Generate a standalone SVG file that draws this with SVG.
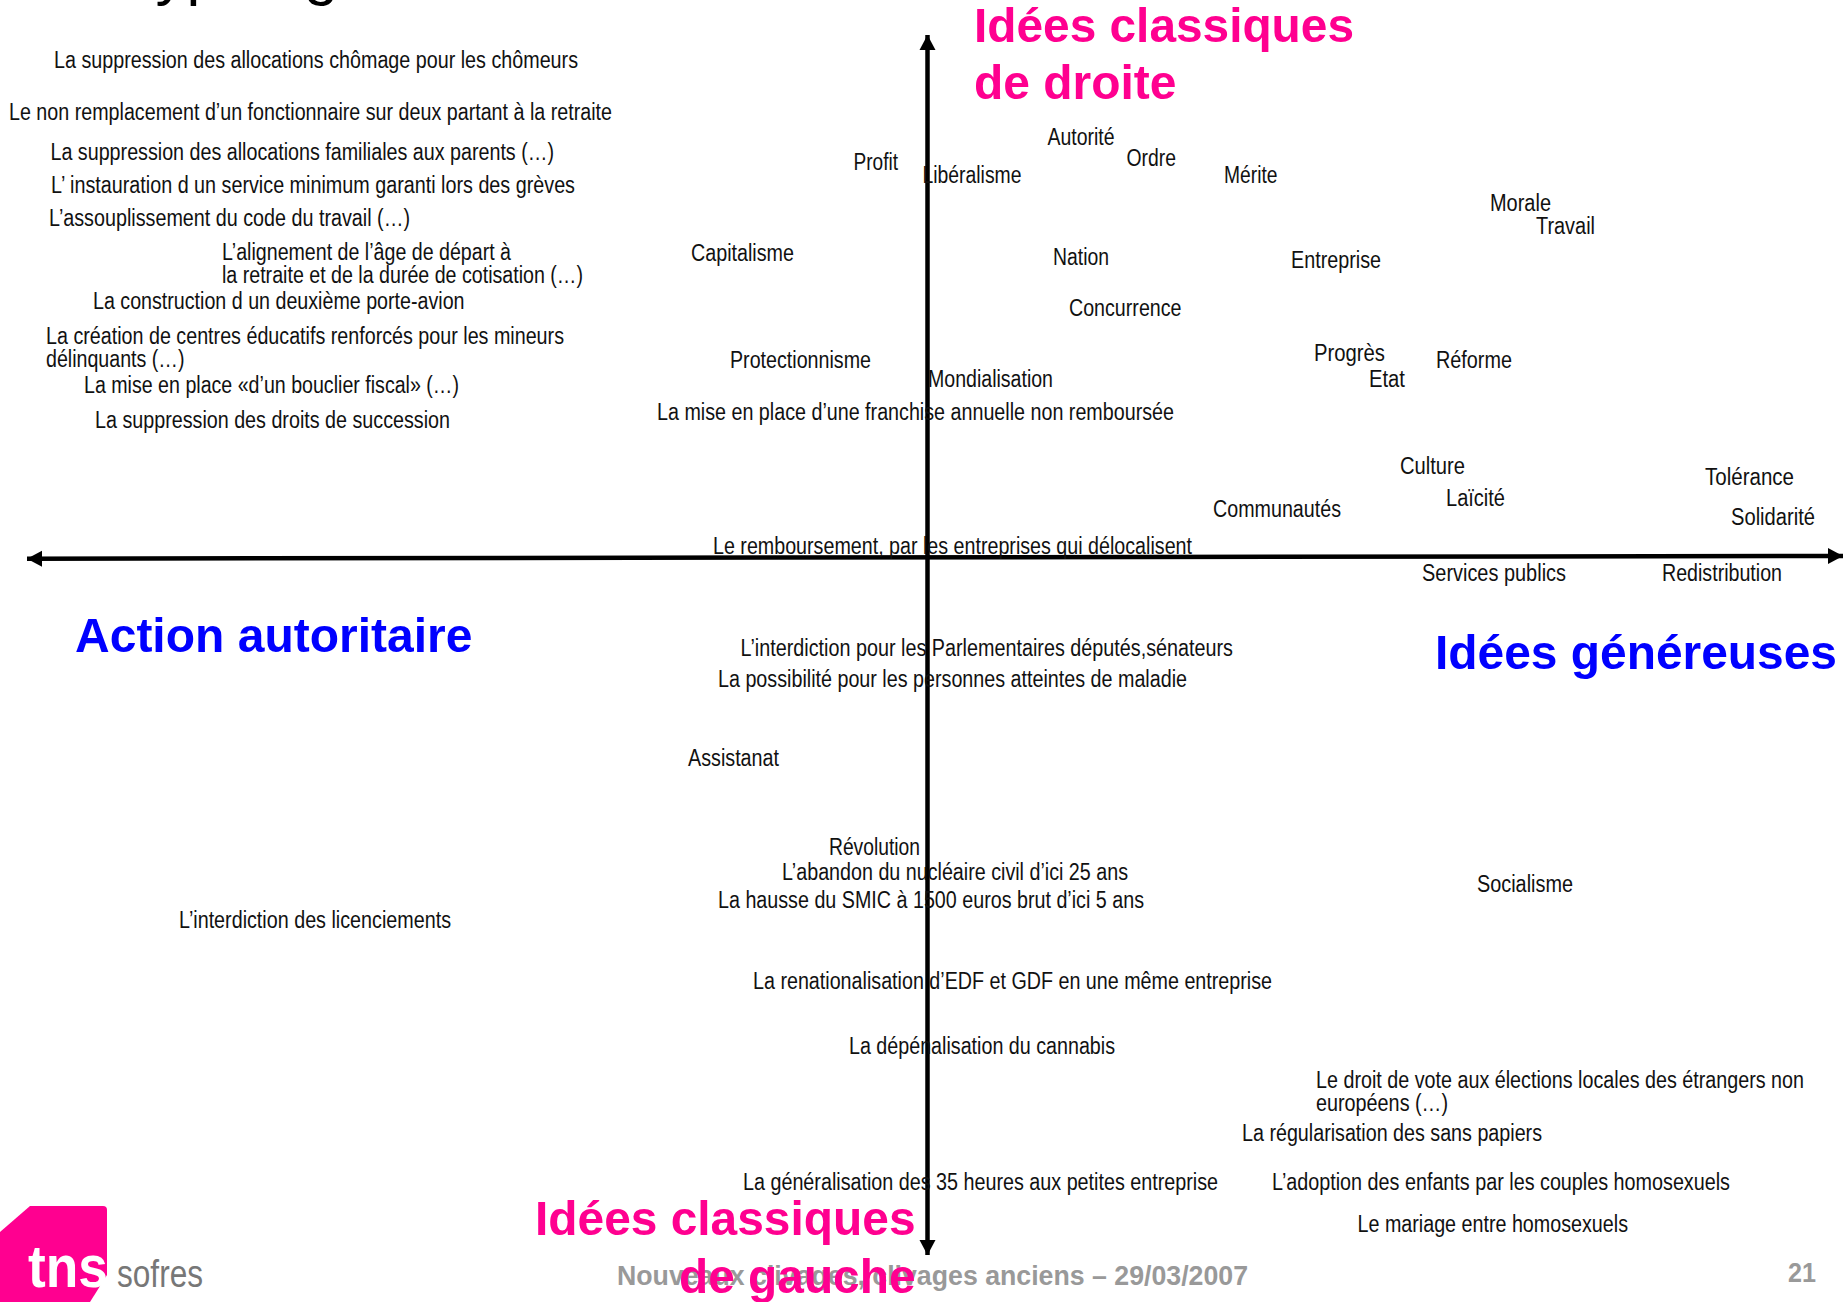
<svg xmlns="http://www.w3.org/2000/svg" width="1843" height="1302" viewBox="0 0 1843 1302">
<style>
text{font-family:"Liberation Sans",Arial,sans-serif}
.t{font-size:23px;fill:#111}
.p{font-size:49px;font-weight:bold;fill:#ff0090}
.b{font-size:49px;font-weight:bold;fill:#0000ff}
.f{font-size:27px;font-weight:bold;fill:#999}
.axis{stroke:#000;stroke-width:4.500;fill:none}
</style>
<defs>
<marker id="a" markerUnits="userSpaceOnUse" markerWidth="16" markerHeight="18" refX="15" refY="9" orient="auto-start-reverse"><path d="M0 1L15 9L0 17Z" fill="#000"/></marker>
</defs>
<rect width="1843" height="1302" fill="#fff"/>
<g id="title"><text x="121" y="-7" font-size="62" fill="#000">Typologie</text></g>
<g id="footer">
<text class="f" x="617" y="1285" textLength="631" lengthAdjust="spacingAndGlyphs">Nouveaux clivages, clivages anciens – 29/03/2007</text>
<text class="f" x="1788" y="1282" textLength="28" lengthAdjust="spacingAndGlyphs" font-size="26">21</text>
</g>
<g id="connectors">
<path class="axis" d="M27 558.700L1843 556" marker-start="url(#a)" marker-end="url(#a)"/>
<path class="axis" d="M927.500 35V1255" marker-start="url(#a)" marker-end="url(#a)"/>
</g>
<g id="logo">
<path d="M0 1232L30 1206H103Q107 1206 107 1210V1275L90 1302H0Z" fill="#ff0090"/>
<text x="28" y="1287" font-size="60" font-weight="bold" fill="#fff" textLength="80" lengthAdjust="spacingAndGlyphs">tns</text>
<text x="117" y="1287" font-size="38" fill="#777" textLength="86" lengthAdjust="spacingAndGlyphs">sofres</text>
</g>
<g id="n1"><text class="t" x="54" y="68" textLength="524" lengthAdjust="spacingAndGlyphs">La suppression des allocations chômage pour les chômeurs</text></g>
<g id="n2"><text class="t" x="9" y="119.500" textLength="603" lengthAdjust="spacingAndGlyphs">Le non remplacement d’un fonctionnaire sur deux partant à la retraite</text></g>
<g id="n3"><text class="t" x="50.500" y="160" textLength="503.500" lengthAdjust="spacingAndGlyphs">La suppression des allocations familiales aux parents (…)</text></g>
<g id="n4"><text class="t" x="51" y="193" textLength="524" lengthAdjust="spacingAndGlyphs">L’ instauration d un service minimum garanti lors des grèves</text></g>
<g id="n5"><text class="t" x="49" y="226" textLength="361" lengthAdjust="spacingAndGlyphs">L’assouplissement du code du travail (…)</text></g>
<g id="n6"><text class="t" x="222" y="260" textLength="289" lengthAdjust="spacingAndGlyphs">L’alignement de l’âge de départ à</text><text class="t" x="222" y="283" textLength="361" lengthAdjust="spacingAndGlyphs">la retraite et de la durée de cotisation (…)</text></g>
<g id="n7"><text class="t" x="93" y="308.500" textLength="371.500" lengthAdjust="spacingAndGlyphs">La construction d un deuxième porte-avion</text></g>
<g id="n8"><text class="t" x="46" y="344" textLength="518" lengthAdjust="spacingAndGlyphs">La création de centres éducatifs renforcés pour les mineurs</text><text class="t" x="46" y="367" textLength="138.500" lengthAdjust="spacingAndGlyphs">délinquants (…)</text></g>
<g id="n9"><text class="t" x="84" y="393" textLength="375" lengthAdjust="spacingAndGlyphs">La mise en place «d’un bouclier fiscal» (…)</text></g>
<g id="n10"><text class="t" x="95" y="428" textLength="355" lengthAdjust="spacingAndGlyphs">La suppression des droits de succession</text></g>
<g id="n11"><text class="t" x="853.500" y="169.500" textLength="44.500" lengthAdjust="spacingAndGlyphs">Profit</text></g>
<g id="n12"><text class="t" x="922.500" y="183" textLength="99" lengthAdjust="spacingAndGlyphs">Libéralisme</text></g>
<g id="n13"><text class="t" x="1047.500" y="144.500" textLength="67" lengthAdjust="spacingAndGlyphs">Autorité</text></g>
<g id="n14"><text class="t" x="1126.500" y="165.500" textLength="49.500" lengthAdjust="spacingAndGlyphs">Ordre</text></g>
<g id="n15"><text class="t" x="1224" y="183" textLength="53.500" lengthAdjust="spacingAndGlyphs">Mérite</text></g>
<g id="n16"><text class="t" x="691" y="261" textLength="103" lengthAdjust="spacingAndGlyphs">Capitalisme</text></g>
<g id="n17"><text class="t" x="1053" y="264.500" textLength="56" lengthAdjust="spacingAndGlyphs">Nation</text></g>
<g id="n18"><text class="t" x="1069" y="316" textLength="112.500" lengthAdjust="spacingAndGlyphs">Concurrence</text></g>
<g id="n19"><text class="t" x="730" y="367.500" textLength="141" lengthAdjust="spacingAndGlyphs">Protectionnisme</text></g>
<g id="n20"><text class="t" x="928" y="386.500" textLength="125" lengthAdjust="spacingAndGlyphs">Mondialisation</text></g>
<g id="n21"><text class="t" x="657" y="419.500" textLength="517" lengthAdjust="spacingAndGlyphs">La mise en place d’une franchise annuelle non remboursée</text></g>
<g id="n22"><text class="t" x="1213" y="517" textLength="128" lengthAdjust="spacingAndGlyphs">Communautés</text></g>
<g id="n23"><text class="t" x="713" y="553.500" textLength="479" lengthAdjust="spacingAndGlyphs">Le remboursement, par les entreprises qui délocalisent</text></g>
<g id="n24"><text class="t" x="1490" y="211" textLength="61" lengthAdjust="spacingAndGlyphs">Morale</text></g>
<g id="n25"><text class="t" x="1536" y="234" textLength="59" lengthAdjust="spacingAndGlyphs">Travail</text></g>
<g id="n26"><text class="t" x="1291" y="268" textLength="90" lengthAdjust="spacingAndGlyphs">Entreprise</text></g>
<g id="n27"><text class="t" x="1314" y="361" textLength="71" lengthAdjust="spacingAndGlyphs">Progrès</text></g>
<g id="n28"><text class="t" x="1369" y="386.500" textLength="36" lengthAdjust="spacingAndGlyphs">Etat</text></g>
<g id="n29"><text class="t" x="1436" y="368" textLength="76" lengthAdjust="spacingAndGlyphs">Réforme</text></g>
<g id="n30"><text class="t" x="1400" y="474" textLength="65" lengthAdjust="spacingAndGlyphs">Culture</text></g>
<g id="n31"><text class="t" x="1446" y="506" textLength="59" lengthAdjust="spacingAndGlyphs">Laïcité</text></g>
<g id="n32"><text class="t" x="1705" y="485" textLength="89" lengthAdjust="spacingAndGlyphs">Tolérance</text></g>
<g id="n33"><text class="t" x="1731" y="525" textLength="84" lengthAdjust="spacingAndGlyphs">Solidarité</text></g>
<g id="n34"><text class="t" x="1422" y="581" textLength="144" lengthAdjust="spacingAndGlyphs">Services publics</text></g>
<g id="n35"><text class="t" x="1662" y="581" textLength="120" lengthAdjust="spacingAndGlyphs">Redistribution</text></g>
<g id="n36"><text class="t" x="740.500" y="656" textLength="492.500" lengthAdjust="spacingAndGlyphs">L’interdiction pour les Parlementaires députés,sénateurs</text></g>
<g id="n37"><text class="t" x="718" y="687" textLength="469" lengthAdjust="spacingAndGlyphs">La possibilité pour les personnes atteintes de maladie</text></g>
<g id="n38"><text class="t" x="688" y="766" textLength="91" lengthAdjust="spacingAndGlyphs">Assistanat</text></g>
<g id="n39"><text class="t" x="829" y="855" textLength="91" lengthAdjust="spacingAndGlyphs">Révolution</text></g>
<g id="n40"><text class="t" x="782" y="880" textLength="346" lengthAdjust="spacingAndGlyphs">L’abandon du nucléaire civil d’ici 25 ans</text></g>
<g id="n41"><text class="t" x="718" y="908" textLength="426" lengthAdjust="spacingAndGlyphs">La hausse du SMIC à 1500 euros brut d’ici 5 ans</text></g>
<g id="n42"><text class="t" x="179" y="928" textLength="272" lengthAdjust="spacingAndGlyphs">L’interdiction des licenciements</text></g>
<g id="n43"><text class="t" x="1477" y="892" textLength="96" lengthAdjust="spacingAndGlyphs">Socialisme</text></g>
<g id="n44"><text class="t" x="753" y="989" textLength="519" lengthAdjust="spacingAndGlyphs">La renationalisation d’EDF et GDF en une même entreprise</text></g>
<g id="n45"><text class="t" x="849" y="1054" textLength="266" lengthAdjust="spacingAndGlyphs">La dépénalisation du cannabis</text></g>
<g id="n46"><text class="t" x="1316" y="1088" textLength="488" lengthAdjust="spacingAndGlyphs">Le droit de vote aux élections locales des étrangers non</text><text class="t" x="1316" y="1111" textLength="132" lengthAdjust="spacingAndGlyphs">européens (…)</text></g>
<g id="n47"><text class="t" x="1242" y="1141" textLength="300" lengthAdjust="spacingAndGlyphs">La régularisation des sans papiers</text></g>
<g id="n48"><text class="t" x="743" y="1190" textLength="475" lengthAdjust="spacingAndGlyphs">La généralisation des 35 heures aux petites entreprise</text></g>
<g id="n49"><text class="t" x="1272" y="1190" textLength="458" lengthAdjust="spacingAndGlyphs">L’adoption des enfants par les couples homosexuels</text></g>
<g id="n50"><text class="t" x="1357.500" y="1232" textLength="270.500" lengthAdjust="spacingAndGlyphs">Le mariage entre homosexuels</text></g>
<g id="q-top"><text class="p" x="974" y="42" textLength="380" lengthAdjust="spacingAndGlyphs">Idées classiques</text><text class="p" x="974" y="99" textLength="202.500" lengthAdjust="spacingAndGlyphs">de droite</text></g>
<g id="q-bottom"><text class="p" x="535" y="1235" textLength="380.500" lengthAdjust="spacingAndGlyphs">Idées classiques</text><text class="p" x="679" y="1293" textLength="236.500" lengthAdjust="spacingAndGlyphs">de gauche</text></g>
<g id="q-left"><text class="b" x="75" y="652" textLength="397.500" lengthAdjust="spacingAndGlyphs">Action autoritaire</text></g>
<g id="q-right"><text class="b" x="1435" y="669" textLength="402" lengthAdjust="spacingAndGlyphs">Idées généreuses</text></g>
</svg>
